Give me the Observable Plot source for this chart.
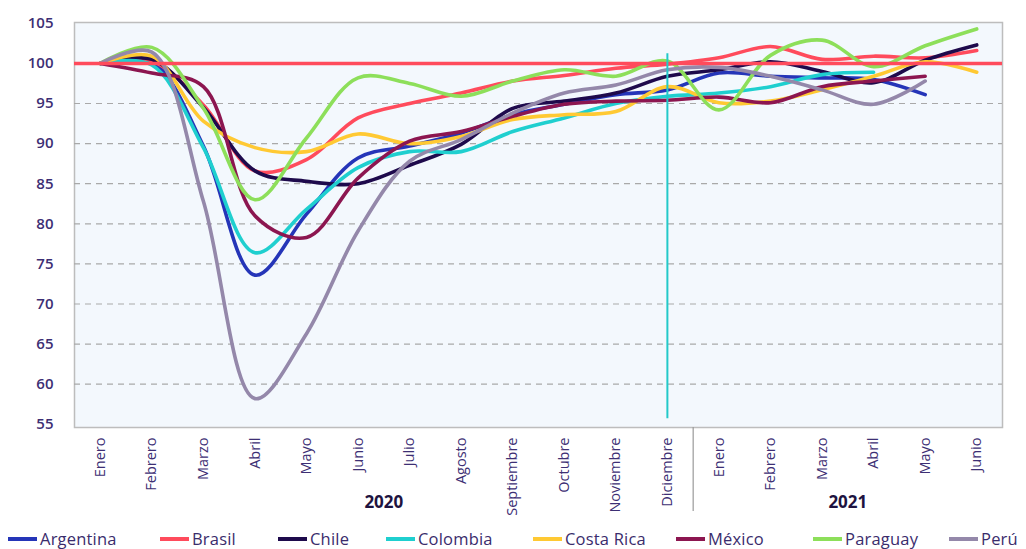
<!DOCTYPE html>
<html><head><meta charset="utf-8">
<script src="https://cdn.jsdelivr.net/npm/d3@7"></script>
<script src="https://cdn.jsdelivr.net/npm/@observablehq/plot@0.6"></script>
<style>
body{margin:0;background:#fff;font-family:"Open Sans",sans-serif;}
#legend{position:relative;height:21px;font-size:16.5px;color:#3a2c6c;letter-spacing:0.2px;}
.item{position:absolute;top:0;height:21px;display:flex;align-items:center;white-space:nowrap;}
.sw{width:29px;height:4px;margin-right:3px;}
</style></head><body>
<div id="chart"></div>
<div id="legend"></div>
<script>
// ---- data ----
const monthLabels = ["Enero","Febrero","Marzo","Abril","Mayo","Junio","Julio","Agosto","Septiembre","Octubre","Noviembre","Diciembre",
                     "Enero","Febrero","Marzo","Abril","Mayo","Junio"];
const yearLabels = ["2020","2021"];
const monthsPerYear = [12, 6];
const yTicks = [55,60,65,70,75,80,85,90,95,100,105];
const baseline = 100;
const markerMonth = 11;            // Diciembre 2020
const markerRange = [55.7, 101.2]; // extent of the vertical marker

const seriesNames = ["Argentina","Brasil","Chile","Colombia","Costa Rica","México","Paraguay","Perú"];
const seriesColors = ["#2535b8","#ff4b5c","#1e0a4c","#1fcfcf","#ffc933","#8c1650","#8ddf5a","#9488aa"];

const argentina = [100,100.2,89.7,73.6,81.2,88.2,89.7,91.3,93.6,94.9,96.1,96.7,98.8,98.4,98.2,98.0,96.1];
const brasil    = [100,100.3,94.8,86.6,88.0,93.2,95.0,96.3,97.8,98.5,99.4,99.9,100.7,102.1,100.5,100.9,100.7,101.6];
const chile     = [100,100.5,94.5,86.6,85.3,85.0,87.3,89.9,94.4,95.3,96.3,98.4,99.2,100.2,99.0,97.6,100.4,102.3];
const colombia  = [100,99.8,89.5,76.4,81.8,87.0,89.0,89.0,91.5,93.2,95.0,95.9,96.3,97.1,98.6,98.9];
const costaRica = [100,100.9,92.8,89.5,89.0,91.2,90.0,90.9,93.0,93.6,94.0,97.1,95.1,95.3,96.7,98.4,100.2,98.9];
const mexico    = [100,98.8,97.1,81.0,78.3,85.7,90.3,91.5,93.4,94.9,95.3,95.4,95.8,95.1,97.1,97.8,98.4];
const paraguay  = [100,102.0,94.4,83.0,90.7,98.2,97.5,95.9,97.8,99.2,98.4,100.3,94.2,101.0,102.9,99.6,102.2,104.3];
const peru      = [100,101.4,82.8,58.2,66.3,79.1,87.8,90.5,93.8,96.3,97.3,99.2,99.5,98.4,96.7,94.9,97.8];

const seriesValues = [argentina, brasil, chile, colombia, costaRica, mexico, paraguay, peru];
const legendLeft = [8, 160, 278, 386, 533, 676, 813, 949];

// ---- build table ----
const rows = [];
seriesNames.forEach((name, s) => {
  seriesValues[s].forEach((v, i) => rows.push({serie: name, i, v}));
});
const yearRows = [];
let start = 0;
yearLabels.forEach((y, k) => {
  yearRows.push({label: y, x: start + (monthsPerYear[k] - 1) / 2});
  start += monthsPerYear[k];
});
const separators = [monthsPerYear[0] - 0.5];

const chart = Plot.plot({
  width: 1026,
  height: 528,
  marginLeft: 74,
  marginRight: 24,
  marginTop: 22,
  marginBottom: 101,
  style: {fontFamily: "'Open Sans', sans-serif", fontSize: "14px", color: "#3d2f74", background: "transparent"},
  x: {type: "linear", domain: [-0.5, monthLabels.length - 0.5], label: null},
  y: {domain: [54.6, 105.1], label: null},
  color: {domain: seriesNames, range: seriesColors},
  marks: [
    Plot.frame({fill: "#f3f8fd", stroke: "#bdbdbd", strokeWidth: 1.5}),
    Plot.ruleY(yTicks.filter(t => t > 55 && t < 100), {stroke: "#a9a9a9", strokeWidth: 1.2, strokeDasharray: "6,5"}),
    Plot.axisY({ticks: yTicks, tickSize: 0, tickPadding: 21, fontSize: 15, fontWeight: 600, fill: "#3d2f74", label: null}),
    Plot.axisX({ticks: d3.range(monthLabels.length), tickFormat: i => monthLabels[i], tickRotate: -90, tickSize: 0, tickPadding: 10, fontSize: 14.5, fill: "#3d2f74", label: null}),
    Plot.ruleX(separators, {stroke: "#9a9a9a", strokeWidth: 1.2, insetTop: 405, insetBottom: -84}),
    Plot.text(yearRows, {x: "x", text: "label", frameAnchor: "bottom", dy: 80, fontSize: 17, fontWeight: "bold", fill: "#1e1340"}),
    Plot.line(rows, {x: "i", y: "v", z: "serie", stroke: "serie", strokeWidth: 3.6, curve: "catmull-rom"}),
    Plot.ruleY([baseline], {stroke: "#ff4b5c", strokeWidth: 3.5}),
    Plot.ruleX([markerMonth], {y1: markerRange[0], y2: markerRange[1], stroke: "#22c9c9", strokeWidth: 2})
  ]
});
document.getElementById("chart").appendChild(chart);

const legend = document.getElementById("legend");
seriesNames.forEach((n, k) => {
  const it = document.createElement("div");
  it.className = "item";
  it.style.left = legendLeft[k] + "px";
  it.innerHTML = `<span class="sw" style="background:${seriesColors[k]}"></span><span>${n}</span>`;
  legend.appendChild(it);
});
</script>
</body></html>
